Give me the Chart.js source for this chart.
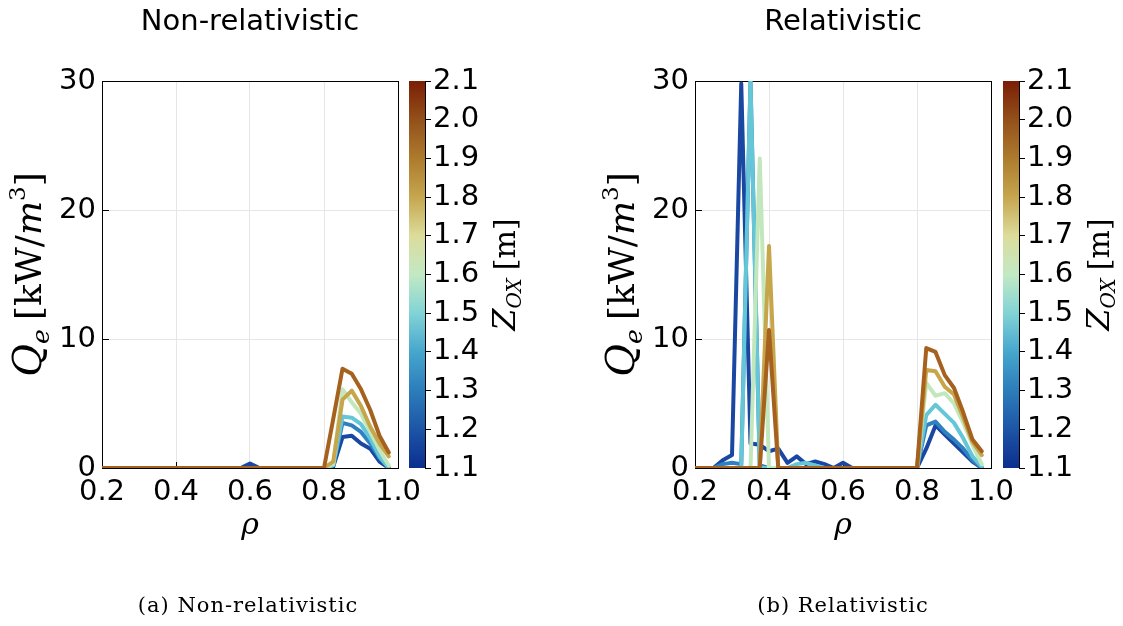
<!DOCTYPE html>
<html>
<head>
<meta charset="utf-8">
<script src="https://cdn.jsdelivr.net/npm/chart.js@4/dist/chart.umd.min.js"></script>
<style>
  html, body { margin: 0; padding: 0; background: #fff; width: 1123px; height: 626px; overflow: hidden; }
  canvas { position: absolute; top: 0; }
</style>
</head>
<body>
<canvas id="plotNonRel" width="434" height="626" style="left:0px"></canvas>
<canvas id="barNonRel" width="150" height="626" style="left:400px"></canvas>
<canvas id="plotRel" width="467" height="626" style="left:560px"></canvas>
<canvas id="barRel" width="128" height="626" style="left:995px"></canvas>
<script>
// Normalised radius grid shared by every profile
const rho = [0.2, 0.225, 0.25, 0.275, 0.3, 0.325, 0.35, 0.375, 0.4, 0.425, 0.45, 0.475,
             0.5, 0.525, 0.55, 0.575, 0.6, 0.625, 0.65, 0.675, 0.7, 0.725, 0.75, 0.775,
             0.8, 0.825, 0.85, 0.875, 0.9, 0.925, 0.95, 0.975];

// Launch heights Z_OX [m] of the profiles and their line colours
const zLaunch = [1.2, 1.3, 1.45, 1.6, 1.8, 2.0];
const zColors = ['#1a47a2', '#2f82c2', '#64c6d6', '#c3e7bd', '#c7a54b', '#a6611e'];

// Power density Q_e [kW/m^3], non-relativistic absorption
const qNonRel_z120 = [0,0,0,0,0,0,0,0,0,0,0,0,0,0,0,0,0.35,0,0,0,0,0,0,0,0,0.1,2.4,2.5,1.9,1.5,0.5,0];
const qNonRel_z130 = [0,0,0,0,0,0,0,0,0,0,0,0,0,0,0,0,0,0,0,0,0,0,0,0,0,0.2,3.5,3.3,2.8,1.9,0.8,0];
const qNonRel_z145 = [0,0,0,0,0,0,0,0,0,0,0,0,0,0,0,0,0,0,0,0,0,0,0,0,0,0.2,4.0,3.9,3.4,2.3,0.9,0];
const qNonRel_z160 = [0,0,0,0,0,0,0,0,0,0,0,0,0,0,0,0,0,0,0,0,0,0,0,0,0,0.3,6.1,5.1,4.2,2.8,1.4,0.2];
const qNonRel_z180 = [0,0,0,0,0,0,0,0,0,0,0,0,0,0,0,0,0,0,0,0,0,0,0,0,0,0.5,5.3,6.0,4.8,3.2,1.9,0.9];
const qNonRel_z200 = [0,0,0,0,0,0,0,0,0,0,0,0,0,0,0,0,0,0,0,0,0,0,0,0,0,3.8,7.7,7.3,6.1,4.5,2.5,1.2];

// Power density Q_e [kW/m^3], relativistic absorption
const qRel_z120 = [0,0,0,0.6,1.0,29.8,1.9,1.8,1.3,1.5,0.4,0.9,0.3,0.5,0.3,0,0.4,0,0,0,0,0,0,0,0,1.5,3.3,2.6,1.9,1.2,0.5,0];
const qRel_z130 = [0,0,0,0.3,0.4,0.3,30,0.2,0,0,0,0,0,0,0,0,0,0,0,0,0,0,0,0,0,3.3,3.6,2.8,2.2,1.5,0.6,0];
const qRel_z145 = [0,0,0,0,0,0,30,0,0,0,0,0.3,0.4,0.2,0,0,0,0,0,0,0,0,0,0,0,4.1,4.9,4.2,3.5,2.3,0.9,0.1];
const qRel_z160 = [0,0,0,0,0,0,0,24.0,0,0,0,0,0,0,0,0,0,0,0,0,0,0,0,0,0,6.6,5.6,5.8,5.0,3.5,1.8,0.3];
const qRel_z180 = [0,0,0,0,0,0,0,0,17.2,0,0,0,0,0,0,0,0,0,0,0,0,0,0,0,0,7.6,7.5,6.3,5.7,3.9,2.0,1.0];
const qRel_z200 = [0,0,0,0,0,0,0,0,10.7,0,0,0,0,0,0,0,0,0,0,0,0,0,0,0,0,9.3,9.0,7.2,6.2,4.3,2.2,1.3];

// Axis ticks
const rhoTicks = [0.2, 0.4, 0.6, 0.8, 1.0];
const qTicks = [0, 10, 20, 30];
const zTicks = [1.1, 1.2, 1.3, 1.4, 1.5, 1.6, 1.7, 1.8, 1.9, 2.0, 2.1];

// Colour scale of the colour bar (value, colour)
const zScaleValues = [1.1, 1.2, 1.3, 1.4, 1.5, 1.6, 1.7, 1.8, 1.9, 2.0, 2.1];
const zScaleColors = ['#0b2e8f', '#1d55a6', '#2c7dbb', '#46a6cd', '#82d3d6', '#c2e9c4',
                      '#dcdc9b', '#c6a64f', '#ad7b2d', '#93501a', '#7b1e06'];

// Panel texts
const panelTitles = ['Non-relativistic', 'Relativistic'];
const panelCaptions = ['(a) Non-relativistic', '(b) Relativistic'];

const TICK_FONT = { family: 'DejaVu Sans', size: 29 };
const SERIF = '"DejaVu Serif"';

// Draws a row of text runs (font changes, sub/superscripts) centred on (cx, baseline cy)
function drawRuns(ctx, runs, cx, cy, rot) {
  ctx.save();
  ctx.translate(cx, cy);
  ctx.rotate(rot || 0);
  ctx.textAlign = 'left';
  ctx.textBaseline = 'alphabetic';
  ctx.fillStyle = '#000';
  let total = 0;
  const w = runs.map(r => { ctx.font = r.f; const m = ctx.measureText(r.t).width + (r.gap || 0); total += m; return m; });
  let x = -total / 2;
  runs.forEach((r, i) => { ctx.font = r.f; ctx.fillText(r.t, x, r.dy || 0); x += w[i]; });
  ctx.restore();
}

const qLabelRuns = [
  { t: 'Q', f: 'italic 40px ' + SERIF },
  { t: 'e', f: 'italic 25px ' + SERIF, dy: 8, gap: 9 },
  { t: '[kW/', f: '36px ' + SERIF },
  { t: 'm', f: 'italic 36px ' + SERIF },
  { t: '3', f: '23px ' + SERIF, dy: -16 },
  { t: ']', f: '36px ' + SERIF }
];
const zLabelRuns = [
  { t: 'Z', f: 'italic 32px ' + SERIF },
  { t: 'OX', f: 'italic 20px ' + SERIF, dy: 6, gap: 8 },
  { t: '[m]', f: '30px ' + SERIF }
];

// Box frame with inward tick marks, drawn under the curves
const frameTicks = {
  id: 'frameTicks',
  beforeDatasetsDraw(chart) {
    const { ctx, chartArea: a, scales: { x, y } } = chart;
    ctx.save();
    ctx.strokeStyle = '#000';
    ctx.lineWidth = 1;
    ctx.beginPath();
    x.ticks.forEach(t => {
      const px = Math.round(x.getPixelForValue(t.value)) + 0.5;
      ctx.moveTo(px, a.bottom); ctx.lineTo(px, a.bottom - 6);
    });
    y.ticks.forEach(t => {
      const py = Math.round(y.getPixelForValue(t.value)) + 0.5;
      ctx.moveTo(a.left, py); ctx.lineTo(a.left + 7, py);
    });
    ctx.stroke();
    ctx.strokeRect(Math.round(a.left) + 0.5, Math.round(a.top) + 0.5,
                   Math.round(a.right - a.left), Math.round(a.bottom - a.top));
    ctx.restore();
  }
};

// Title, axis labels and caption of a panel
const panelText = {
  id: 'panelText',
  afterDraw(chart, args, o) {
    const ctx = chart.ctx, a = chart.chartArea;
    const cx = (a.left + a.right) / 2;
    ctx.save();
    ctx.fillStyle = '#000';
    ctx.textAlign = 'center';
    ctx.textBaseline = 'alphabetic';
    ctx.font = '29px "DejaVu Sans"';
    ctx.fillText(o.title, cx, 30);
    ctx.restore();
    drawRuns(ctx, [{ t: 'ρ', f: 'italic 30px ' + SERIF }], cx, 534, 0);
    drawRuns(ctx, qLabelRuns, o.yLabelX, (a.top + a.bottom) / 2, -Math.PI / 2);
    ctx.save();
    ctx.fillStyle = '#000';
    ctx.textAlign = 'center';
    ctx.textBaseline = 'alphabetic';
    ctx.font = '21px ' + SERIF;
    if ('letterSpacing' in ctx) ctx.letterSpacing = '1px';
    ctx.fillText(o.caption, cx + o.captionShift, 612);
    ctx.restore();
  }
};

// Colour-bar label
const barText = {
  id: 'barText',
  afterDraw(chart, args, o) {
    const a = chart.chartArea;
    drawRuns(chart.ctx, zLabelRuns, o.labelX, (a.top + a.bottom) / 2, -Math.PI / 2);
  }
};

function profileChart(id, series, yAxisWidth, rightPad, title, caption, yLabelX, captionShift) {
  const n = series.length;
  return new Chart(document.getElementById(id), {
    type: 'line',
    data: {
      datasets: series.map((vals, i) => ({
        label: 'Z = ' + zLaunch[i] + ' m',
        data: rho.map((r, k) => ({ x: r, y: vals[k] })),
        borderColor: zColors[i],
        borderWidth: 4,
        borderJoinStyle: 'round',
        borderCapStyle: 'round',
        pointRadius: 0,
        tension: 0,
        fill: false,
        order: n - 1 - i
      }))
    },
    options: {
      responsive: false,
      animation: false,
      events: [],
      layout: { padding: { top: 81, left: 0, right: rightPad, bottom: 0 } },
      plugins: {
        legend: { display: false },
        tooltip: { enabled: false },
        panelText: { title, caption, yLabelX, captionShift }
      },
      scales: {
        x: {
          type: 'linear', min: 0.2, max: 1.0,
          afterBuildTicks: s => { s.ticks = rhoTicks.map(v => ({ value: v })); },
          afterFit: s => { s.height = 158; },
          ticks: { callback: v => v.toFixed(1), font: TICK_FONT, color: '#000', padding: 7, maxRotation: 0, autoSkip: false },
          grid: { color: '#e6e6e6', lineWidth: 1, drawTicks: false },
          border: { display: false }
        },
        y: {
          type: 'linear', min: 0, max: 30,
          afterBuildTicks: s => { s.ticks = qTicks.map(v => ({ value: v })); },
          afterFit: s => { s.width = yAxisWidth; },
          ticks: { callback: v => String(v), font: TICK_FONT, color: '#000', padding: 6 },
          grid: { color: '#e6e6e6', lineWidth: 1, drawTicks: false },
          border: { display: false }
        }
      }
    },
    plugins: [frameTicks, panelText]
  });
}

function colourBar(id, padLeft, axisWidth, labelX) {
  const zMin = zScaleValues[0], zMax = zScaleValues[zScaleValues.length - 1];
  return new Chart(document.getElementById(id), {
    type: 'bar',
    data: {
      labels: [''],
      datasets: [{
        data: [[zMin, zMax]],
        backgroundColor: c => {
          const ch = c.chart;
          if (!ch.chartArea) return zScaleColors[0];
          const y = ch.scales.y;
          const g = ch.ctx.createLinearGradient(0, y.getPixelForValue(zMin), 0, y.getPixelForValue(zMax));
          zScaleValues.forEach((v, i) => g.addColorStop((v - zMin) / (zMax - zMin), zScaleColors[i]));
          return g;
        },
        borderWidth: 0,
        barPercentage: 1,
        categoryPercentage: 1
      }]
    },
    options: {
      responsive: false,
      animation: false,
      events: [],
      layout: { padding: { top: 81, left: padLeft, right: 0, bottom: 158 } },
      plugins: { legend: { display: false }, tooltip: { enabled: false }, barText: { labelX } },
      scales: {
        x: { display: false },
        y: {
          position: 'right', min: zMin, max: zMax,
          afterBuildTicks: s => { s.ticks = zTicks.map(v => ({ value: v })); },
          afterFit: s => { s.width = axisWidth; },
          ticks: { callback: v => v.toFixed(1), font: TICK_FONT, color: '#000', padding: 2 },
          grid: { drawOnChartArea: false, drawTicks: true, tickLength: 6, color: '#000' },
          border: { display: true, color: '#000', width: 1 }
        }
      }
    },
    plugins: [barText]
  });
}

profileChart('plotNonRel',
  [qNonRel_z120, qNonRel_z130, qNonRel_z145, qNonRel_z160, qNonRel_z180, qNonRel_z200],
  102, 36, panelTitles[0], panelCaptions[0], 41, -2);
colourBar('barNonRel', 9, 125, 115);

profileChart('plotRel',
  [qRel_z120, qRel_z130, qRel_z145, qRel_z160, qRel_z180, qRel_z200],
  135, 36, panelTitles[1], panelCaptions[1], 74, 0);
colourBar('barRel', 8, 104, 114);
</script>
</body>
</html>
